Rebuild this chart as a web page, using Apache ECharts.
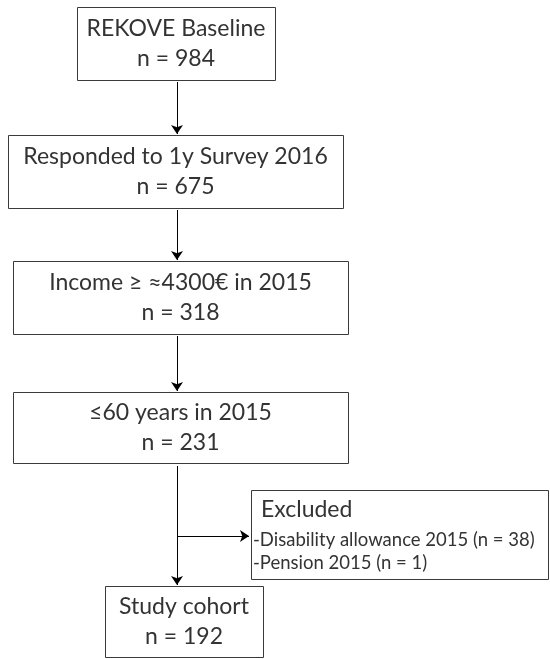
<!DOCTYPE html>
<html>
<head>
<meta charset="utf-8">
<script src="https://cdn.jsdelivr.net/npm/echarts@6/dist/echarts.min.js"></script>
<style>
  html, body { margin: 0; padding: 0; background: #fff; }
  #main { width: 550px; height: 659px; }
</style>
</head>
<body>
<div id="main"></div>
<script>
// flow steps
const stepLabels = ["REKOVE Baseline", "Responded to 1y Survey 2016", "Income ≥ ≈4300€ in 2015", "≤60 years in 2015", "Study cohort"];
const stepCounts = [984, 675, 318, 231, 192];
const excludedTitle = "Excluded";
const excludedReasons = ["Disability allowance 2015", "Pension 2015"];
const excludedCounts = [38, 1];

// layout (page pixels): x0, y0, x1, y1
const stepBoxes = [
  [77, 7, 275, 80],
  [8, 135, 343, 208],
  [13, 261, 348, 334],
  [13, 392, 348, 463],
  [105, 586, 263, 657]
];
const excludedBox = [251, 490, 548, 579];
const flowX = 177;
const branchY = 536;

const FONT = "Lato, 'Noto Sans', sans-serif";
const TEXT_COLOR = "#333";

// arrows between boxes
let arrows = [];
for (let i = 0; i < stepBoxes.length - 1; i++) {
  if (i === 3) continue;
  arrows.push({ coords: [[flowX, stepBoxes[i][3] + 2], [flowX, stepBoxes[i + 1][1] - 1]] });
}
arrows.push({ coords: [[flowX, stepBoxes[3][3] + 3], [flowX, stepBoxes[4][1] - 1]] });
arrows.push({ coords: [[flowX, branchY], [excludedBox[0] - 2, branchY]] });

function boxRect(api, b) {
  let p0 = api.coord([b[0], b[1]]);
  let p1 = api.coord([b[2], b[3]]);
  return {
    type: "rect",
    shape: { x: Math.round(p0[0]) + 0.5, y: Math.round(p0[1]) + 0.5, width: p1[0] - p0[0], height: p1[1] - p0[1] },
    style: { fill: "#fff", stroke: "#3a3a3a", lineWidth: 1 }
  };
}

const chart = echarts.init(document.getElementById("main"), null, { renderer: "canvas" });
chart.setOption({
  backgroundColor: "#fff",
  animation: false,
  grid: { left: 0, right: 0, top: 0, bottom: 0 },
  xAxis: { type: "value", min: 0, max: 550, show: false },
  yAxis: { type: "value", min: 0, max: 659, inverse: true, show: false },
  series: [
    {
      type: "lines",
      coordinateSystem: "cartesian2d",
      symbol: ["none", "arrow"],
      symbolSize: 9,
      lineStyle: { color: "#000", width: 1, opacity: 1, curveness: 0 },
      data: arrows,
      z: 1
    },
    {
      type: "custom",
      clip: false,
      z: 2,
      data: stepBoxes,
      renderItem: function(params, api) {
        let b = stepBoxes[params.dataIndex];
        let c = api.coord([(b[0] + b[2]) / 2, (b[1] + b[3]) / 2]);
        return {
          type: "group",
          children: [
            boxRect(api, b),
            {
              type: "text",
              style: {
                text: stepLabels[params.dataIndex], x: c[0], y: c[1] - 15,
                align: "center", verticalAlign: "middle",
                font: "23px " + FONT, fill: TEXT_COLOR
              }
            },
            {
              type: "text",
              style: {
                text: "n = " + stepCounts[params.dataIndex], x: c[0], y: c[1] + 15,
                align: "center", verticalAlign: "middle",
                font: "23px " + FONT, fill: TEXT_COLOR
              }
            }
          ]
        };
      }
    },
    {
      type: "custom",
      clip: false,
      z: 2,
      data: [excludedBox],
      renderItem: function(params, api) {
        let b = excludedBox;
        let children = [boxRect(api, b)];
        let t = api.coord([b[0] + 10, b[1] + 20]);
        children.push({
          type: "text",
          style: { text: excludedTitle, x: t[0], y: t[1], align: "left", verticalAlign: "middle", font: "23px " + FONT, fill: TEXT_COLOR }
        });
        for (let i = 0; i < excludedReasons.length; i++) {
          let p = api.coord([b[0] + 2, b[1] + 50 + i * 23]);
          children.push({
            type: "text",
            style: {
              text: "-" + excludedReasons[i] + " (n = " + excludedCounts[i] + ")",
              x: p[0], y: p[1], align: "left", verticalAlign: "middle",
              font: "18.5px " + FONT, fill: TEXT_COLOR
            }
          });
        }
        return { type: "group", children: children };
      }
    }
  ]
});
</script>
</body>
</html>
